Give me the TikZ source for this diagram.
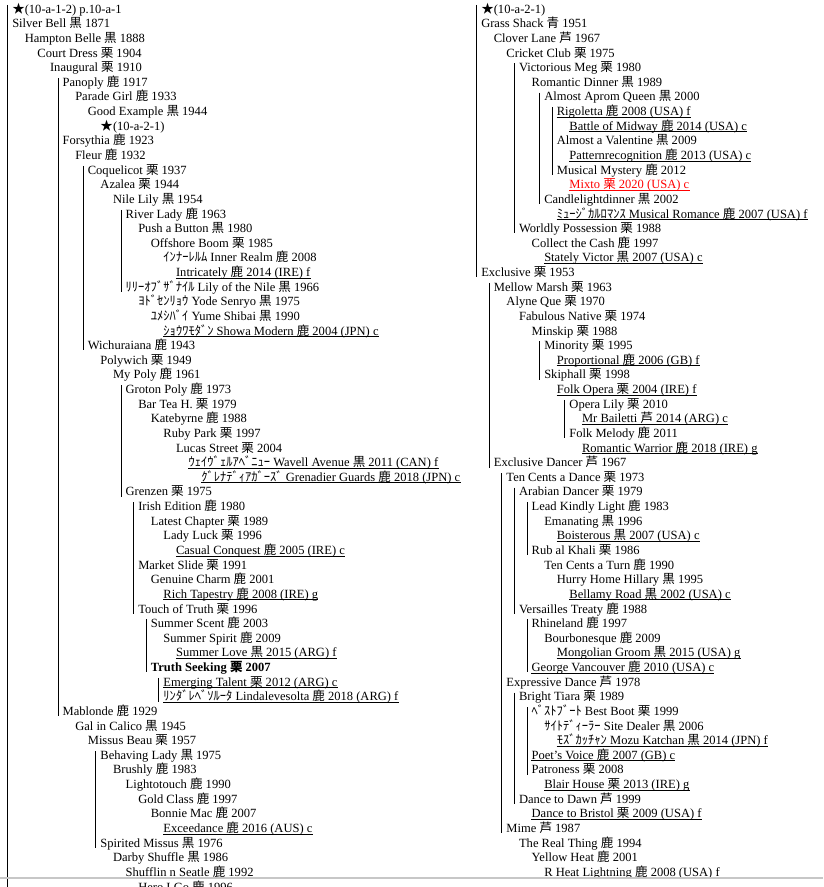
\documentclass[tikz,border=0pt]{standalone}
\usepackage{fontspec}
\setmainfont{Liberation Serif}
\newfontfamily\cjk{Noto Sans CJK JP}
\newcommand\kj[1]{{\cjk #1}}

\begin{document}
\begin{tikzpicture}[
  x=0.75pt, y=-0.75pt,
  entry/.style={
    anchor=base west, inner sep=0pt,
    text height=6pt, text depth=0.4pt,
    font=\fontsize{9.4}{11}\selectfont
  },
  bar/.style={line width=0.75pt},
  uline/.style={line width=0.6pt},
  frame/.style={draw=black!22, line width=1.5pt}
]
  \clip (0,0) rectangle (823,887);

  % left column: x = level, y = row
  \begin{scope}[x=9.45pt, y=-10.9725pt, xshift=9pt, yshift=-9.9pt]
    \node[entry] (refA)        at (0,0)   {\kj{★}(10-a-1-2) p.10-a-1};
    \node[entry] (silverbell)  at (0,1)   {Silver Bell \kj{黒} 1871};
    \node[entry] (hampton)     at (1,2)   {Hampton Belle \kj{黒} 1888};
    \node[entry] (courtdress)  at (2,3)   {Court Dress \kj{栗} 1904};
    \node[entry] (inaugural)   at (3,4)   {Inaugural \kj{栗} 1910};
    \node[entry] (panoply)     at (4,5)   {Panoply \kj{鹿} 1917};
    \node[entry] (paradegirl)  at (5,6)   {Parade Girl \kj{鹿} 1933};
    \node[entry] (goodex)      at (6,7)   {Good Example \kj{黒} 1944};
    \node[entry] (refB)        at (7,8)   {\kj{★}(10-a-2-1)};
    \node[entry] (forsythia)   at (4,9)   {Forsythia \kj{鹿} 1923};
    \node[entry] (fleur)       at (5,10)  {Fleur \kj{鹿} 1932};
    \node[entry] (coquelicot)  at (6,11)  {Coquelicot \kj{栗} 1937};
    \node[entry] (azalea)      at (7,12)  {Azalea \kj{栗} 1944};
    \node[entry] (nilelily)    at (8,13)  {Nile Lily \kj{黒} 1954};
    \node[entry] (riverlady)   at (9,14)  {River Lady \kj{鹿} 1963};
    \node[entry] (pushbutton)  at (10,15) {Push a Button \kj{黒} 1980};
    \node[entry] (offshore)    at (11,16) {Offshore Boom \kj{栗} 1985};
    \node[entry] (innerrealm)  at (12,17) {\kj{ｲﾝﾅｰﾚﾙﾑ} Inner Realm \kj{鹿} 2008};
    \node[entry] (intricately) at (13,18) {Intricately \kj{鹿} 2014 (IRE) f};
    \node[entry] (lilynile)    at (9,19)  {\kj{ﾘﾘｰｵﾌﾞｻﾞﾅｲﾙ} Lily of the Nile \kj{黒} 1966};
    \node[entry] (yode)        at (10,20) {\kj{ﾖﾄﾞｾﾝﾘｮｳ} Yode Senryo \kj{黒} 1975};
    \node[entry] (yume)        at (11,21) {\kj{ﾕﾒｼﾊﾞｲ} Yume Shibai \kj{黒} 1990};
    \node[entry] (showa)       at (12,22) {\kj{ｼｮｳﾜﾓﾀﾞﾝ} Showa Modern \kj{鹿} 2004 (JPN) c};
    \node[entry] (wichuraiana) at (6,23)  {Wichuraiana \kj{鹿} 1943};
    \node[entry] (polywich)    at (7,24)  {Polywich \kj{栗} 1949};
    \node[entry] (mypoly)      at (8,25)  {My Poly \kj{鹿} 1961};
    \node[entry] (groton)      at (9,26)  {Groton Poly \kj{鹿} 1973};
    \node[entry] (bartea)      at (10,27) {Bar Tea H. \kj{栗} 1979};
    \node[entry] (katebyrne)   at (11,28) {Katebyrne \kj{鹿} 1988};
    \node[entry] (rubypark)    at (12,29) {Ruby Park \kj{栗} 1997};
    \node[entry] (lucas)       at (13,30) {Lucas Street \kj{栗} 2004};
    \node[entry] (wavell)      at (14,31) {\kj{ｳｪｲｳﾞｪﾙｱﾍﾞﾆｭｰ} Wavell Avenue \kj{黒} 2011 (CAN) f};
    \node[entry] (grenadier)   at (15,32) {\kj{ｸﾞﾚﾅﾃﾞｨｱｶﾞｰｽﾞ} Grenadier Guards \kj{鹿} 2018 (JPN) c};
    \node[entry] (grenzen)     at (9,33)  {Grenzen \kj{栗} 1975};
    \node[entry] (irished)     at (10,34) {Irish Edition \kj{鹿} 1980};
    \node[entry] (latest)      at (11,35) {Latest Chapter \kj{栗} 1989};
    \node[entry] (ladyluck)    at (12,36) {Lady Luck \kj{栗} 1996};
    \node[entry] (casual)      at (13,37) {Casual Conquest \kj{鹿} 2005 (IRE) c};
    \node[entry] (market)      at (10,38) {Market Slide \kj{栗} 1991};
    \node[entry] (genuine)     at (11,39) {Genuine Charm \kj{鹿} 2001};
    \node[entry] (richtap)     at (12,40) {Rich Tapestry \kj{鹿} 2008 (IRE) g};
    \node[entry] (touch)       at (10,41) {Touch of Truth \kj{栗} 1996};
    \node[entry] (sscent)      at (11,42) {Summer Scent \kj{鹿} 2003};
    \node[entry] (sspirit)     at (12,43) {Summer Spirit \kj{鹿} 2009};
    \node[entry] (slove)       at (13,44) {Summer Love \kj{黒} 2015 (ARG) f};
    \node[entry] (truth)       at (11,45) {\bfseries Truth Seeking \kj{栗} 2007};
    \node[entry] (emerging)    at (12,46) {Emerging Talent \kj{栗} 2012 (ARG) c};
    \node[entry] (linda)       at (12,47) {\kj{ﾘﾝﾀﾞﾚﾍﾞｿﾙｰﾀ} Lindalevesolta \kj{鹿} 2018 (ARG) f};
    \node[entry] (mablonde)    at (4,48)  {Mablonde \kj{鹿} 1929};
    \node[entry] (galcalico)   at (5,49)  {Gal in Calico \kj{黒} 1945};
    \node[entry] (missus)      at (6,50)  {Missus Beau \kj{栗} 1957};
    \node[entry] (behaving)    at (7,51)  {Behaving Lady \kj{黒} 1975};
    \node[entry] (brushly)     at (8,52)  {Brushly \kj{鹿} 1983};
    \node[entry] (lighto)      at (9,53)  {Lightotouch \kj{鹿} 1990};
    \node[entry] (goldclass)   at (10,54) {Gold Class \kj{鹿} 1997};
    \node[entry] (bonnie)      at (11,55) {Bonnie Mac \kj{鹿} 2007};
    \node[entry] (exceedance)  at (12,56) {Exceedance \kj{鹿} 2016 (AUS) c};
    \node[entry] (spirited)    at (7,57)  {Spirited Missus \kj{黒} 1976};
    \node[entry] (darby)       at (8,58)  {Darby Shuffle \kj{黒} 1986};
    \node[entry] (shufflin)    at (9,59)  {Shufflin n Seatle \kj{鹿} 1992};
    \node[entry] (herogo)      at (10,60) {Hero I Go \kj{鹿} 1996};
  \end{scope}

  % right column
  \begin{scope}[x=9.45pt, y=-10.9725pt, xshift=360.75pt, yshift=-9.9pt]
    \node[entry] (refC)        at (0,0)   {\kj{★}(10-a-2-1)};
    \node[entry] (grassshack)  at (0,1)   {Grass Shack \kj{青} 1951};
    \node[entry] (clover)      at (1,2)   {Clover Lane \kj{芦} 1967};
    \node[entry] (cricket)     at (2,3)   {Cricket Club \kj{栗} 1975};
    \node[entry] (victmeg)     at (3,4)   {Victorious Meg \kj{栗} 1980};
    \node[entry] (romdinner)   at (4,5)   {Romantic Dinner \kj{黒} 1989};
    \node[entry] (aprom)       at (5,6)   {Almost Aprom Queen \kj{黒} 2000};
    \node[entry] (rigoletta)   at (6,7)   {Rigoletta \kj{鹿} 2008 (USA) f};
    \node[entry] (midway)      at (7,8)   {Battle of Midway \kj{鹿} 2014 (USA) c};
    \node[entry] (valentine)   at (6,9)   {Almost a Valentine \kj{黒} 2009};
    \node[entry] (pattern)     at (7,10)  {Patternrecognition \kj{鹿} 2013 (USA) c};
    \node[entry] (mystery)     at (6,11)  {Musical Mystery \kj{鹿} 2012};
    \node[entry, text=red] (mixto) at (7,12) {Mixto \kj{栗} 2020 (USA) c};
    \node[entry] (candle)      at (5,13)  {Candlelightdinner \kj{黒} 2002};
    \node[entry] (musrom)      at (6,14)  {\kj{ﾐｭｰｼﾞｶﾙﾛﾏﾝｽ} Musical Romance \kj{鹿} 2007 (USA) f};
    \node[entry] (worldly)     at (3,15)  {Worldly Possession \kj{栗} 1988};
    \node[entry] (collect)     at (4,16)  {Collect the Cash \kj{鹿} 1997};
    \node[entry] (stately)     at (5,17)  {Stately Victor \kj{黒} 2007 (USA) c};
    \node[entry] (exclusive)   at (0,18)  {Exclusive \kj{栗} 1953};
    \node[entry] (mellow)      at (1,19)  {Mellow Marsh \kj{栗} 1963};
    \node[entry] (alyne)       at (2,20)  {Alyne Que \kj{栗} 1970};
    \node[entry] (fabulous)    at (3,21)  {Fabulous Native \kj{栗} 1974};
    \node[entry] (minskip)     at (4,22)  {Minskip \kj{栗} 1988};
    \node[entry] (minority)    at (5,23)  {Minority \kj{栗} 1995};
    \node[entry] (proportional) at (6,24) {Proportional \kj{鹿} 2006 (GB) f};
    \node[entry] (skiphall)    at (5,25)  {Skiphall \kj{栗} 1998};
    \node[entry] (folkopera)   at (6,26)  {Folk Opera \kj{栗} 2004 (IRE) f};
    \node[entry] (operalily)   at (7,27)  {Opera Lily \kj{栗} 2010};
    \node[entry] (bailetti)    at (8,28)  {Mr Bailetti \kj{芦} 2014 (ARG) c};
    \node[entry] (folkmelody)  at (7,29)  {Folk Melody \kj{鹿} 2011};
    \node[entry] (romwarrior)  at (8,30)  {Romantic Warrior \kj{鹿} 2018 (IRE) g};
    \node[entry] (exdancer)    at (1,31)  {Exclusive Dancer \kj{芦} 1967};
    \node[entry] (tencents)    at (2,32)  {Ten Cents a Dance \kj{栗} 1973};
    \node[entry] (arabian)     at (3,33)  {Arabian Dancer \kj{栗} 1979};
    \node[entry] (leadkindly)  at (4,34)  {Lead Kindly Light \kj{鹿} 1983};
    \node[entry] (emanating)   at (5,35)  {Emanating \kj{黒} 1996};
    \node[entry] (boisterous)  at (6,36)  {Boisterous \kj{黒} 2007 (USA) c};
    \node[entry] (rubalkhali)  at (4,37)  {Rub al Khali \kj{栗} 1986};
    \node[entry] (tenturn)     at (5,38)  {Ten Cents a Turn \kj{鹿} 1990};
    \node[entry] (hurryhome)   at (6,39)  {Hurry Home Hillary \kj{黒} 1995};
    \node[entry] (bellamy)     at (7,40)  {Bellamy Road \kj{黒} 2002 (USA) c};
    \node[entry] (versailles)  at (3,41)  {Versailles Treaty \kj{鹿} 1988};
    \node[entry] (rhineland)   at (4,42)  {Rhineland \kj{鹿} 1997};
    \node[entry] (bourbon)     at (5,43)  {Bourbonesque \kj{鹿} 2009};
    \node[entry] (mongolian)   at (6,44)  {Mongolian Groom \kj{黒} 2015 (USA) g};
    \node[entry] (vancouver)   at (4,45)  {George Vancouver \kj{鹿} 2010 (USA) c};
    \node[entry] (expressive)  at (2,46)  {Expressive Dance \kj{芦} 1978};
    \node[entry] (tiara)       at (3,47)  {Bright Tiara \kj{栗} 1989};
    \node[entry] (bestboot)    at (4,48)  {\kj{ﾍﾞｽﾄﾌﾞｰﾄ} Best Boot \kj{栗} 1999};
    \node[entry] (sitedealer)  at (5,49)  {\kj{ｻｲﾄﾃﾞｨｰﾗｰ} Site Dealer \kj{黒} 2006};
    \node[entry] (mozu)        at (6,50)  {\kj{ﾓｽﾞｶｯﾁｬﾝ} Mozu Katchan \kj{黒} 2014 (JPN) f};
    \node[entry] (poets)       at (4,51)  {Poet’s Voice \kj{鹿} 2007 (GB) c};
    \node[entry] (patroness)   at (4,52)  {Patroness \kj{栗} 2008};
    \node[entry] (blair)       at (5,53)  {Blair House \kj{栗} 2013 (IRE) g};
    \node[entry] (dawn)        at (3,54)  {Dance to Dawn \kj{芦} 1999};
    \node[entry] (bristol)     at (4,55)  {Dance to Bristol \kj{栗} 2009 (USA) f};
    \node[entry] (mime)        at (2,56)  {Mime \kj{芦} 1987};
    \node[entry] (realthing)   at (3,57)  {The Real Thing \kj{鹿} 1994};
    \node[entry] (yellowheat)  at (4,58)  {Yellow Heat \kj{鹿} 2001};
    \node[entry] (rheat)       at (5,59)  {R Heat Lightning \kj{鹿} 2008 (USA) f};
  \end{scope}

  % sibling bars
  \coordinate (lbottom) at (7.6,887);
  \draw[bar] ([xshift=-3.3pt]refA.north west) -- (lbottom);
  \foreach \a/\b in {panoply/mablonde, coquelicot/wichuraiana, riverlady/lilynile,
      groton/grenzen, irished/touch, sscent/truth, emerging/linda, behaving/spirited,
      refC/exclusive, victmeg/worldly, aprom/candle, rigoletta/mystery,
      mellow/exdancer, minority/skiphall, operalily/folkmelody, tencents/mime,
      arabian/versailles, leadkindly/rubalkhali, rhineland/vancouver,
      tiara/dawn, bestboot/patroness}
    \draw[bar] ([xshift=-3.3pt]\a.north west) -- ([xshift=-3.3pt]\b.south west);

  % underlined (overseas) entries
  \foreach \n in {intricately, showa, wavell, grenadier, casual, richtap, slove,
      emerging, linda, exceedance, rigoletta, midway, pattern, musrom, stately,
      proportional, folkopera, bailetti, romwarrior, boisterous, bellamy,
      mongolian, vancouver, mozu, poets, blair, bristol, rheat}
    \draw[uline] ([yshift=-1.1pt]\n.base west) -- ([yshift=-1.1pt]\n.base east);
  \draw[uline, red] ([yshift=-1.1pt]mixto.base west) -- ([yshift=-1.1pt]mixto.base east);

  \draw[frame] (0,878) -- (823,878);
\end{tikzpicture}
\end{document}
